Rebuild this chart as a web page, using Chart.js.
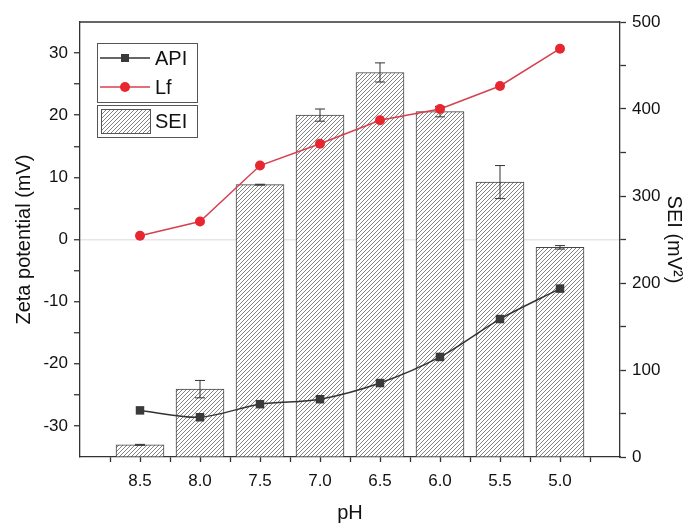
<!DOCTYPE html>
<html>
<head>
<meta charset="utf-8">
<script src="https://cdn.jsdelivr.net/npm/chart.js@4"></script>
<style>
  html, body { margin: 0; padding: 0; background: #fff; }
  #wrap { width: 691px; height: 523px; }
</style>
</head>
<body>
<div id="wrap"><canvas id="grafico" width="691" height="523"></canvas></div>
<script>
// dados
var phValues = [8.5, 8.0, 7.5, 7.0, 6.5, 6.0, 5.5, 5.0]
var apiZeta = [-27.5, -28.6, -26.5, -25.7, -23.1, -18.9, -12.8, -7.9]
var lfValues = [0.6, 2.9, 11.9, 15.4, 19.2, 21.0, 24.7, 30.7]
var seiValues = [14, 78, 313, 393, 442, 397, 316, 241]
var seiErrors = [0.5, 10, 0.5, 7, 11, 6, 19, 2]

var FONT = "'Liberation Sans', Arial, sans-serif"
var DARK = '#333333'
var RED = '#e8262f'
var RED_LINE = '#d6404f'

// padrao hachurado das barras
function hatch() {
  var s = 4
  var c = document.createElement('canvas')
  c.width = s
  c.height = s
  var g = c.getContext('2d')
  g.fillStyle = '#ffffff'
  g.fillRect(0, 0, s, s)
  g.strokeStyle = '#767676'
  g.lineWidth = 0.9
  g.beginPath()
  g.moveTo(0, s); g.lineTo(s, 0)
  g.moveTo(-1, 1); g.lineTo(1, -1)
  g.moveTo(s - 1, s + 1); g.lineTo(s + 1, s - 1)
  g.stroke()
  return g.createPattern(c, 'repeat')
}
var pattern = hatch()

function pts(ys) {
  return phValues.map(function (x, i) { return { x: x, y: ys[i] } })
}

var frame = {
  id: 'frame',
  afterDatasetDraw: function (chart, args) {
    if (args.index !== 2) return
    var ctx = chart.ctx
    var y2 = chart.scales.y2
    var meta = chart.getDatasetMeta(2)
    ctx.save()
    ctx.strokeStyle = DARK
    ctx.lineWidth = 1
    meta.data.forEach(function (bar, i) {
      var top = y2.getPixelForValue(seiValues[i] + seiErrors[i])
      var bot = y2.getPixelForValue(seiValues[i] - seiErrors[i])
      ctx.beginPath()
      ctx.moveTo(bar.x, top); ctx.lineTo(bar.x, bot)
      ctx.moveTo(bar.x - 5, top); ctx.lineTo(bar.x + 5, top)
      ctx.moveTo(bar.x - 5, bot); ctx.lineTo(bar.x + 5, bot)
      ctx.stroke()
    })
    ctx.restore()
  },
  afterDraw: function (chart) {
    var ctx = chart.ctx
    var a = chart.chartArea
    ctx.save()
    ctx.strokeStyle = DARK
    ctx.lineWidth = 1.3
    ctx.beginPath()
    ctx.moveTo(a.left, a.top); ctx.lineTo(a.right, a.top)
    ctx.stroke()

    // legenda
    var lx = a.left + 17
    ctx.lineWidth = 1
    ctx.strokeStyle = '#555'
    ctx.strokeRect(lx + 0.5, 43.5, 100, 59)
    ctx.strokeRect(lx + 0.5, 105.5, 100, 32)
    ctx.font = '20px ' + FONT
    ctx.fillStyle = '#111'
    ctx.textBaseline = 'middle'
    // API
    ctx.strokeStyle = DARK
    ctx.lineWidth = 1.5
    ctx.beginPath(); ctx.moveTo(lx + 3, 58); ctx.lineTo(lx + 53, 58); ctx.stroke()
    ctx.fillStyle = '#3a3a3a'
    ctx.fillRect(lx + 24, 54, 8, 8)
    ctx.fillStyle = '#111'
    ctx.fillText('API', lx + 58, 59)
    // Lf
    ctx.strokeStyle = RED_LINE
    ctx.beginPath(); ctx.moveTo(lx + 3, 87); ctx.lineTo(lx + 53, 87); ctx.stroke()
    ctx.fillStyle = RED
    ctx.beginPath(); ctx.arc(lx + 28, 87, 5, 0, Math.PI * 2); ctx.fill()
    ctx.fillStyle = '#111'
    ctx.fillText('Lf', lx + 58, 88)
    // SEI
    ctx.fillStyle = pattern
    ctx.fillRect(lx + 4, 109, 49, 24)
    ctx.strokeStyle = '#555'
    ctx.lineWidth = 1
    ctx.strokeRect(lx + 4.5, 109.5, 49, 24)
    ctx.fillStyle = '#111'
    ctx.fillText('SEI', lx + 58, 122)
    ctx.restore()
  }
}

function isMultiple(v, m) {
  return Math.abs(v / m - Math.round(v / m)) < 1e-6
}

var tickFont = { family: FONT, size: 17 }
var titleFont = { family: FONT, size: 20 }

new Chart(document.getElementById('grafico').getContext('2d'), {
  type: 'bar',
  data: {
    datasets: [
      {
        type: 'line',
        label: 'API',
        data: pts(apiZeta),
        yAxisID: 'y',
        borderColor: DARK,
        borderWidth: 1.5,
        pointStyle: 'rect',
        pointRadius: 6,
        pointBackgroundColor: '#3a3a3a',
        pointBorderColor: '#3a3a3a',
        pointBorderWidth: 0,
        tension: 0.3,
        order: 0,
      },
      {
        type: 'line',
        label: 'Lf',
        data: pts(lfValues),
        yAxisID: 'y',
        borderColor: RED_LINE,
        borderWidth: 1.5,
        pointStyle: 'circle',
        pointRadius: 5,
        pointBackgroundColor: RED,
        pointBorderColor: RED,
        pointBorderWidth: 0,
        tension: 0,
        order: 0,
      },
      {
        type: 'bar',
        label: 'SEI',
        data: pts(seiValues),
        yAxisID: 'y2',
        backgroundColor: pattern,
        borderColor: '#444',
        borderWidth: 1,
        barThickness: 48,
        order: 1,
      },
    ],
  },
  options: {
    responsive: false,
    animation: false,
    layout: { padding: { top: 22, left: 0, right: 0, bottom: 0 } },
    plugins: {
      legend: { display: false },
      tooltip: { enabled: false },
    },
    scales: {
      x: {
        type: 'linear',
        reverse: true,
        min: 4.5,
        max: 9.0,
        offset: false,
        afterFit: function (s) { s.height = 66 },
        afterBuildTicks: function (s) {
          s.ticks = s.ticks.filter(function (t) { return t.value > 4.6 && t.value < 8.9 })
        },
        ticks: {
          stepSize: 0.25,
          autoSkip: false,
          maxRotation: 0,
          color: '#111',
          font: tickFont,
          padding: 9,
          callback: function (v) { return isMultiple(v, 0.5) ? v.toFixed(1) : '' },
        },
        grid: { drawOnChartArea: false, offset: false, tickLength: 5, tickColor: DARK, tickWidth: 1.3 },
        border: { color: DARK, width: 1.3 },
        title: { display: true, text: 'pH', color: '#111', font: titleFont, padding: { top: 0, bottom: -2 } },
      },
      y: {
        position: 'left',
        min: -35,
        max: 35,
        afterFit: function (s) { s.width = 80 },
        afterBuildTicks: function (s) {
          s.ticks = s.ticks.filter(function (t) { return t.value > -34 && t.value < 34 })
        },
        ticks: {
          stepSize: 5,
          autoSkip: false,
          color: '#111',
          font: tickFont,
          padding: 6,
          callback: function (v) { return isMultiple(v, 10) ? String(v) : '' },
        },
        grid: {
          drawOnChartArea: true,
          color: function (c) { return c.tick && c.tick.value === 0 ? '#e6e6e6' : 'rgba(0,0,0,0)' },
          lineWidth: 1.5,
          tickLength: 6,
          tickColor: DARK,
          tickWidth: 1.3,
        },
        border: { color: DARK, width: 1.3 },
        title: { display: true, text: 'Zeta potential (mV)', color: '#111', font: titleFont, padding: { top: 12, bottom: 0 } },
      },
      y2: {
        position: 'right',
        min: 0,
        max: 500,
        afterFit: function (s) { s.width = 71 },
        ticks: {
          stepSize: 50,
          autoSkip: false,
          color: '#111',
          font: tickFont,
          padding: 6,
          callback: function (v) { return isMultiple(v, 100) ? String(v) : '' },
        },
        grid: { drawOnChartArea: false, tickLength: 6, tickColor: DARK, tickWidth: 1.3 },
        border: { color: DARK, width: 1.3 },
        title: { display: true, text: 'SEI (mV²)', color: '#111', font: titleFont, padding: { top: 5, bottom: 0 } },
      },
    },
  },
  plugins: [frame],
})
</script>
</body>
</html>
